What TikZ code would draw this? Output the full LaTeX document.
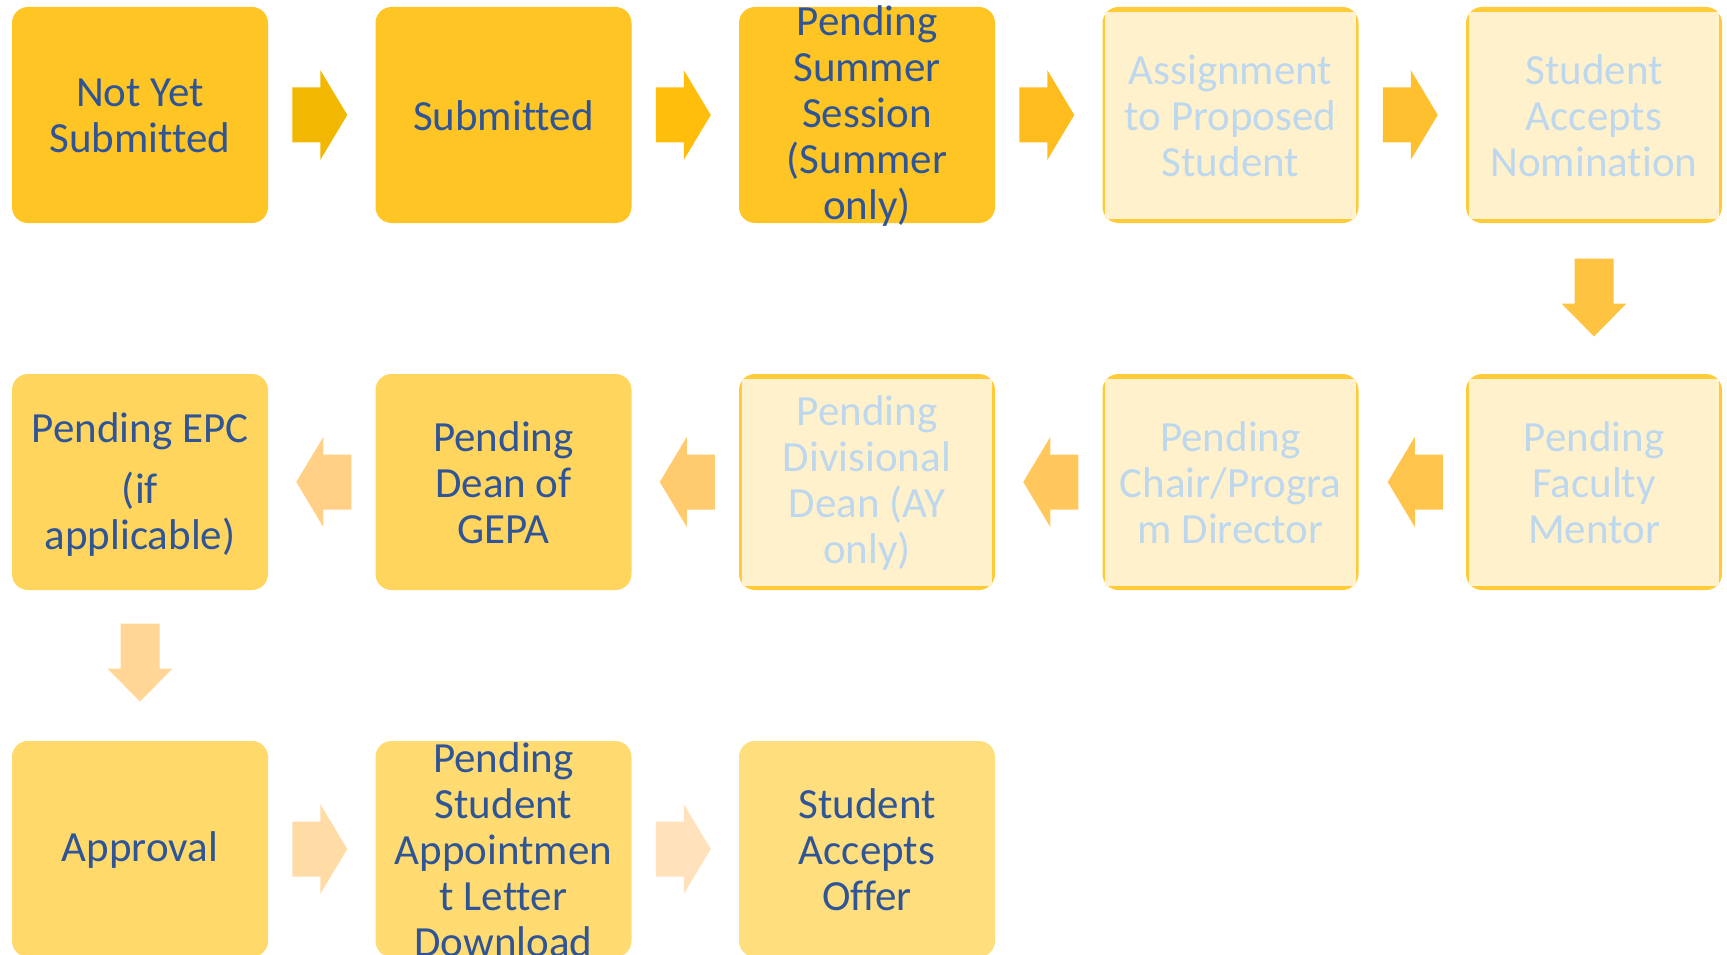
\documentclass[tikz,border=0pt]{standalone}
\usepackage{fontspec}
\setmainfont{Carlito}[Ligatures={NoCommon}]
\usetikzlibrary{calc}
\definecolor{tblue}{HTML}{2F5597}
\definecolor{lblue}{HTML}{BDD7EE}
\definecolor{gA}{HTML}{FFC524}
\definecolor{gB}{HTML}{FFD55E}
\definecolor{gC}{HTML}{FFD96A}
\definecolor{gD}{HTML}{FFDB72}
\definecolor{gE}{HTML}{FFDE7E}
\definecolor{lgold}{HTML}{FFCB38}
\definecolor{lfill}{HTML}{FFF1CC}
\definecolor{aA}{HTML}{F2B700}
\definecolor{aB}{HTML}{FFBE0B}
\definecolor{aC}{HTML}{FFBC1E}
\definecolor{aD}{HTML}{FFC030}
\definecolor{aE}{HTML}{FFC342}
\definecolor{aF}{HTML}{FFC44C}
\definecolor{aG}{HTML}{FFC75C}
\definecolor{aH}{HTML}{FFCB6E}
\definecolor{aI}{HTML}{FFD086}
\definecolor{aJ}{HTML}{FFD696}
\definecolor{aK}{HTML}{FFDBA6}
\definecolor{aL}{HTML}{FFE2BC}
\newcommand\lbox[4]{%
  \node[box, fill=lgold] (#1) at (#2,#3) {};
  \fill[lfill] ($(#1.north west)+(3,5)$) rectangle ($(#1.south east)+(-3,-4)$);
  \node[ltxt] (#1t) at ($(#1)+(0,1)$) {#4};}
\newcommand\gbox[5]{%
  \node[box, fill=#5] (#1) at (#2,#3) {};
  \node[txt] (#1t) at ($(#1)+(0,1)$) {#4};}
\begin{document}
\begin{tikzpicture}[x=1pt,y=-1pt,
  box/.style={rectangle, rounded corners=16pt, minimum width=256pt, minimum height=216pt, inner sep=0pt},
  txt/.style={align=center, text=tblue, font=\fontsize{43}{46}\selectfont, inner sep=0pt},
  ltxt/.style={txt, text=lblue},
  rarr/.pic={\fill[#1] (-27.5,-27.5) -- (0.5,-27.5) -- (0.5,-45) -- (27.5,0) -- (0.5,45) -- (0.5,27.5) -- (-27.5,27.5) -- cycle;},
  larr/.pic={\fill[#1] (27.5,-27.5) -- (-0.5,-27.5) -- (-0.5,-45) -- (-27.5,0) -- (-0.5,45) -- (-0.5,27.5) -- (27.5,27.5) -- cycle;},
  darr/.pic={\fill[#1] (-19.5,-39) -- (19.5,-39) -- (19.5,6) -- (32.5,6) -- (0,39) -- (-32.5,6) -- (-19.5,6) -- (-19.5,-39) -- cycle;}
]
\useasboundingbox (0,0) rectangle (1727,955);
\clip (0,0) rectangle (1727,955);
% row 1
\gbox{b1}{140}{115}{Not Yet\\Submitted}{gA}
\gbox{b2}{503.5}{115}{Submitted}{gA}
\gbox{b3}{867}{115}{Pending\\Summer\\Session\\(Summer\\only)}{gA}
\lbox{b4}{1230.5}{115}{Assignment\\to Proposed\\Student}
\lbox{b5}{1594}{115}{Student\\Accepts\\Nomination}
% row 2
\lbox{c5}{1594}{482}{Pending\\Faculty\\Mentor}
\lbox{c4}{1230.5}{482}{Pending\\Chair/Progra\\m Director}
\lbox{c3}{867}{482}{Pending\\Divisional\\Dean (AY\\only)}
\gbox{c2}{503.5}{482}{Pending\\Dean of\\GEPA}{gB}
\node[box, fill=gB] (c1) at (140,482) {};
\node[txt] (c1t) at ($(c1)+(0,3)$) {Pending EPC\\[15pt](if\\applicable)};
% row 3
\gbox{d1}{140}{849}{Approval}{gC}
\gbox{d2}{503.5}{849}{Pending\\Student\\Appointmen\\t Letter\\Download}{gD}
\gbox{d3}{867}{849}{Student\\Accepts\\Offer}{gE}
% arrows row 1
\pic at ($(b1.east)!0.5!(b2.west)+(-2,0)$) {rarr=aA};
\pic at ($(b2.east)!0.5!(b3.west)+(-2,0)$) {rarr=aB};
\pic at ($(b3.east)!0.5!(b4.west)+(-2,0)$) {rarr=aC};
\pic at ($(b4.east)!0.5!(b5.west)+(-2,0)$) {rarr=aD};
\pic at ($(b5.south)!0.5!(c5.north)+(0,-1)$) {darr=aE};
% arrows row 2
\pic at ($(c5.west)!0.5!(c4.east)+(3,0)$) {larr=aF};
\pic at ($(c4.west)!0.5!(c3.east)+(2,0)$) {larr=aG};
\pic at ($(c3.west)!0.5!(c2.east)+(2,0)$) {larr=aH};
\pic at ($(c2.west)!0.5!(c1.east)+(2,0)$) {larr=aI};
\pic at ($(c1.south)!0.5!(d1.north)+(0,-3)$) {darr=aJ};
% arrows row 3
\pic at ($(d1.east)!0.5!(d2.west)+(-2,0)$) {rarr=aK};
\pic at ($(d2.east)!0.5!(d3.west)+(-2,0)$) {rarr=aL};
\end{tikzpicture}
\end{document}
